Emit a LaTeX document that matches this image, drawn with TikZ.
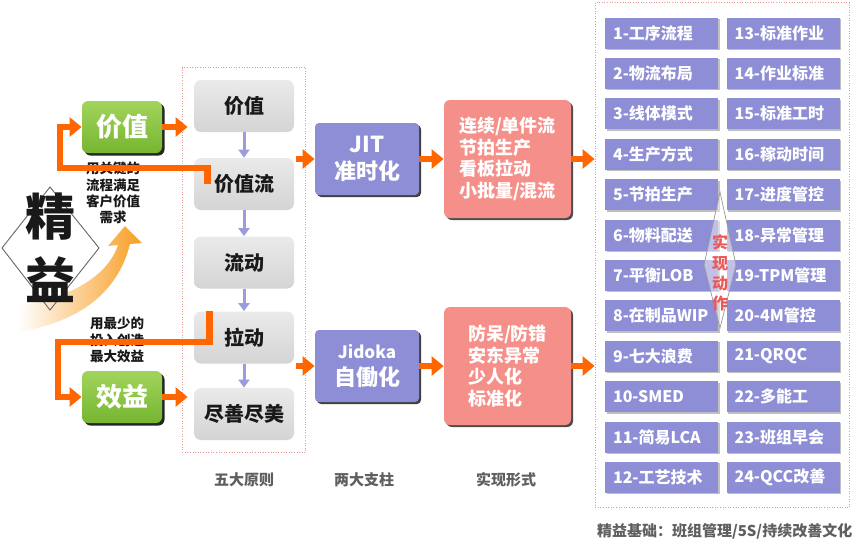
\documentclass[tikz,border=0pt]{standalone}
\usepackage{fontspec}
\setmainfont{Noto Sans CJK SC}
\usetikzlibrary{arrows.meta,positioning,calc,shadows,fit}
\definecolor{ink}{RGB}{25,25,25}
\definecolor{flame}{RGB}{255,102,0}
\definecolor{amber}{RGB}{248,158,35}
\definecolor{leaf}{RGB}{118,182,48}
\definecolor{leaflight}{RGB}{162,212,92}
\definecolor{stone}{RGB}{212,212,212}
\definecolor{stonelight}{RGB}{234,234,234}
\definecolor{lilac}{RGB}{142,142,214}
\definecolor{lilacarrow}{RGB}{155,155,222}
\definecolor{salmon}{RGB}{245,143,138}
\definecolor{dotline}{RGB}{232,150,150}
\definecolor{caption}{RGB}{95,95,95}
\definecolor{redtext}{RGB}{236,88,88}
\newcommand{\pxfont}[2]{\fontsize{#1pt}{#2pt}\selectfont}
\tikzset{
  every picture/.style={line width=0.8pt},
  goal/.style={rounded corners=6pt, top color=leaflight, bottom color=leaf, minimum width=80pt, minimum height=52pt, text=white, font=\pxfont{26}{30}\bfseries, drop shadow={shadow xshift=2.5pt, shadow yshift=-2.5pt, fill=black!85, opacity=1}},
  principle/.style={rounded corners=7pt, top color=stonelight, bottom color=stone, minimum width=100pt, minimum height=52pt, text=ink, font=\pxfont{20}{24}\bfseries},
  pillar/.style={rounded corners=4pt, fill=lilac, minimum width=104pt, minimum height=72pt, text=white, align=center, font=\pxfont{22}{27}\bfseries, drop shadow={shadow xshift=2pt, shadow yshift=-2pt, fill=black!75, opacity=1}},
  form/.style={rounded corners=6pt, fill=salmon, minimum width=127pt, minimum height=118pt, text=white, align=left, font=\pxfont{18}{21.5}\bfseries, drop shadow={shadow xshift=2pt, shadow yshift=-2pt, fill=black!70, opacity=1}},
  cell/.style={fill=lilac, text width=97pt, inner xsep=8pt, minimum height=31pt, text=white, align=left, font=\pxfont{16}{19}\bfseries, drop shadow={shadow xshift=1.5pt, shadow yshift=-1.5pt, fill=black!25, opacity=1}},
  dotbox/.style={draw=dotline, dash pattern=on 1pt off 1.6pt, line width=1pt},
  note/.style={text=ink, align=center, inner sep=0pt, font=\pxfont{13.5}{16.3}\bfseries},
  bigchar/.style={text=ink, inner sep=0pt, font=\pxfont{50}{50}\bfseries},
  caption/.style={text=caption, font=\pxfont{15}{18}\bfseries},
  vertred/.style={text=redtext, align=center, inner sep=0pt, font=\pxfont{16}{20.3}\bfseries},
  rim/.style={draw=black!60, line width=0.9pt},
  spindle/.style={draw=black!40, fill=white, fill opacity=0.45, line width=0.7pt},
  bigflow/.style={draw=flame, line width=6.5pt, -{Triangle[length=12pt,width=19pt]}},
  down/.style={draw=lilacarrow, line width=3pt, -{Triangle[length=8pt,width=11pt]}},
}

\begin{document}
\begin{tikzpicture}[x=1pt,y=-1pt]
  \useasboundingbox (0,0) rectangle (868,552);
  % swoosh behind the diamond
  \shade[left color=white, right color=amber] (18,332) .. controls (80,322) and (118,292) .. (130,244) -- (142,243) -- (125,226) -- (108,246) -- (118,245) .. controls (108,276) and (70,298) .. (18,306) -- cycle;
  \draw[rim] (2,248) -- (50,187) -- (99,248) -- (50,310) -- cycle;
  \node[bigchar] (jing) at (50,217) {精};
  \node[bigchar] (yi) at (50,280) {益};

  % two goals
  \node[goal] (gVal) at (122,127) {价值};
  \node[goal] (gBen) at (122,397) {效益};
  \node[note] (nVal) at (113,193) {用关键的\\流程满足\\客户价值\\需求};
  \node[note] (nBen) at (117,340) {用最少的\\投入创造\\最大效益};

  % five principles
  \node[principle] (p1) at (244,106) {价值};
  \node[principle] (p2) at (244,184) {价值流};
  \node[principle] (p3) at (244,262.5) {流动};
  \node[principle] (p4) at (244,337.5) {拉动};
  \node[principle] (p5) at (244,414) {尽善尽美};
  \node[dotbox, fit=(p1)(p5), inner xsep=11.5pt, inner ysep=12pt] (principles) {};
  \foreach \a/\b in {p1/p2,p2/p3,p3/p4,p4/p5}
    \draw[down] (\a) -- (\b);

  % two pillars and their forms
  \node[pillar] (jit) at (367,159) {JIT\\准时化};
  \node[pillar] (jidoka) at (367,366) {{\pxfont{17}{22}Jidoka}\\自働化};
  \node[form] (fJit) at (507.5,159) {连续/单件流\\节拍生产\\看板拉动\\小批量/混流};
  \node[form] (fJid) at (507.5,366) {防呆/防错\\安东异常\\少人化\\标准化};

  % 24 actions
  \foreach \txt [count=\i] in {1-工序流程,2-物流布局,3-线体模式,4-生产方式,5-节拍生产,6-物料配送,7-平衡LOB,8-在制品WIP,9-七大浪费,10-SMED,11-简易LCA,12-工艺技术}
    \node[cell] (c\i) at (661.5,{33+(\i-1)*40.4}) {\txt};
  \foreach \txt [count=\i from 13] in {13-标准作业,14-作业标准,15-标准工时,16-稼动时间,17-进度管控,18-异常管理,19-TPM管理,20-4M管控,21-QRQC,22-多能工,23-班组早会,24-QCC改善}
    \node[cell] (c\i) at (783,{33+(\i-13)*40.4}) {\txt};
  \node[dotbox, fit=(c1)(c24), inner xsep=9.5pt, inner ysep=14.5pt] (actions) {};
  \filldraw[spindle] (720,192) -- (736,265) -- (720,328) -- (704,265) -- cycle;
  \node[vertred] (act) at (720,273) {实\\现\\动\\作};

  % captions
  \node[caption] (cap1) at (244,480) {五大原则};
  \node[caption] (cap2) at (364,480) {两大支柱};
  \node[caption] (cap3) at (506,480) {实现形式};
  \node[caption, anchor=east] (base) at (856,531) {精益基础：班组管理/5S/持续改善文化};

  % flows
  \coordinate (valTurn) at (60,168);
  \coordinate (benTurn) at (58,342);
  \draw[bigflow, shorten >=-6pt] (gVal.east) -- (gVal.east -| principles.west);
  \draw[bigflow, shorten >=-6pt] (gBen.east) -- (gBen.east -| principles.west);
  \draw[bigflow] ([xshift=14pt]p2.west) |- (valTurn) |- (gVal.west);
  \draw[bigflow] ([xshift=16pt]p4.north west) |- (benTurn) |- (gBen.west);
  \draw[bigflow] ([xshift=-10pt]jit.west -| principles.east) -- (jit.west);
  \draw[bigflow] ([xshift=-10pt]jidoka.west -| principles.east) -- (jidoka.west);
  \draw[bigflow] (jit.east) -- (fJit.west |- jit.east);
  \draw[bigflow] (jidoka.east) -- (fJid.west |- jidoka.east);
  \draw[bigflow] (fJit.east |- jit.east) -- (actions.west |- jit.east);
  \draw[bigflow] (fJid.east |- jidoka.east) -- (actions.west |- jidoka.east);
\end{tikzpicture}
\end{document}
